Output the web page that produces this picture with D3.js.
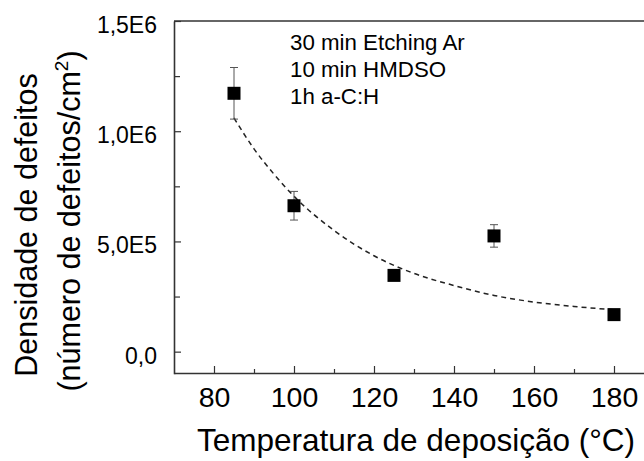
<!DOCTYPE html>
<html>
<head>
<meta charset="utf-8">
<script src="https://cdn.jsdelivr.net/npm/d3@7"></script>
<style>
  body { margin: 0; background: #fff; }
  svg, svg text { font-family: "Liberation Sans", Arial, sans-serif; }
  svg { display: block; }
</style>
</head>
<body>
<div class="chart"></div>
<script>
// measured points (temperature in °C, defect density in defects/cm2)
const temps = [85, 100, 125, 150, 180];
const density = [1172000, 662000, 346000, 525000, 168000];
const errors = [117000, 65000, 15000, 51000, 0];

// dashed trend curve
const fitTemps = [85, 90, 95, 100, 110, 120, 130, 140, 150, 160, 170, 180];
const fitDensity = [1060000, 920000, 805000, 705000, 550000, 435000, 355000, 300000, 255000, 225000, 205000, 190000];

const xTicks = [80, 100, 120, 140, 160, 180];
const xMinorTicks = [90, 110, 130, 150, 170];
const yTicks = [0, 500000, 1000000, 1500000];
const yTickLabels = ["0,0", "5,0E5", "1,0E6", "1,5E6"];
const yMinorTicks = [250000, 750000, 1250000];

const notes = ["30 min Etching Ar", "10 min HMDSO", "1h a-C:H"];

const width = 644, height = 461;
const plotLeft = 174, plotTop = 21, plotBottom = 373;

const svg = d3.select(".chart").append("svg")
    .attr("width", width)
    .attr("height", height);

const x = d3.scaleLinear().domain([70, 190]).range([plotLeft, 654]);
const y = d3.scaleLinear().domain([-100000, 1500000]).range([plotBottom + 0.7, plotTop]);

// frame top line
svg.append("line")
    .attr("x1", plotLeft).attr("x2", width + 10)
    .attr("y1", plotTop).attr("y2", plotTop)
    .attr("stroke", "#333").attr("stroke-width", 1.6);

// x axis
const xAxis = svg.append("g")
    .attr("transform", "translate(0," + plotBottom + ")")
    .call(d3.axisBottom(x).tickValues(xTicks).tickSize(-7).tickSizeOuter(0).tickPadding(14));
xAxis.append("g")
    .call(d3.axisBottom(x).tickValues(xMinorTicks).tickSize(-4).tickSizeOuter(0).tickFormat(""))
    .select(".domain").remove();
xAxis.selectAll("text")
    .attr("font-size", 28.5)
    .attr("fill", "#000");

// y axis
const yAxis = svg.append("g")
    .attr("transform", "translate(" + plotLeft + ",0)")
    .call(d3.axisLeft(y).tickValues(yTicks).tickSize(-7).tickSizeOuter(0).tickPadding(17)
      .tickFormat((d, i) => yTickLabels[i]));
yAxis.append("g")
    .call(d3.axisLeft(y).tickValues(yMinorTicks).tickSize(-6).tickSizeOuter(0).tickFormat(""))
    .select(".domain").remove();
yAxis.selectAll("text")
    .attr("font-size", 23)
    .attr("dy", "0.5em")
    .attr("fill", "#000");

svg.selectAll("g").attr("font-family", null);
svg.selectAll(".domain, .tick line")
    .attr("stroke", "#333");
svg.selectAll(".domain").attr("stroke-width", 1.6);
svg.selectAll(".tick line").attr("stroke-width", 1.2);

// trend line
const line = d3.line()
    .x((d, i) => x(fitTemps[i]))
    .y(d => y(d))
    .curve(d3.curveMonotoneX);
svg.append("path")
    .datum(fitDensity)
    .attr("d", line)
    .attr("fill", "none")
    .attr("stroke", "#222")
    .attr("stroke-width", 1.5)
    .attr("stroke-dasharray", "5,4");

// error bars
const errG = svg.append("g")
    .attr("stroke", "#555")
    .attr("stroke-width", 1);
temps.forEach((t, i) => {
  if (!errors[i]) return;
  const cx = x(t), y1 = y(density[i] + errors[i]), y2 = y(density[i] - errors[i]);
  errG.append("line").attr("x1", cx).attr("x2", cx).attr("y1", y1).attr("y2", y2);
  errG.append("line").attr("x1", cx - 4).attr("x2", cx + 4).attr("y1", y1).attr("y2", y1);
  errG.append("line").attr("x1", cx - 4).attr("x2", cx + 4).attr("y1", y2).attr("y2", y2);
});

// markers
const size = 13;
svg.selectAll("rect.pt")
  .data(temps)
  .enter()
  .append("rect")
    .attr("class", "pt")
    .attr("x", d => x(d) - size / 2)
    .attr("y", (d, i) => y(density[i]) - size / 2)
    .attr("width", size)
    .attr("height", size)
    .attr("fill", "#000");

// notes
svg.append("g").selectAll("text")
  .data(notes)
  .enter()
  .append("text")
    .attr("x", 290)
    .attr("y", (d, i) => 50 + i * 27)
    .attr("font-size", 22.3)
    .attr("fill", "#000")
    .text(d => d);

// axis titles
svg.append("text")
    .attr("x", 416)
    .attr("y", 451)
    .attr("text-anchor", "middle")
    .attr("font-size", 31.5)
    .attr("fill", "#000")
    .text("Temperatura de deposição (°C)");

svg.append("text")
    .attr("transform", "translate(37,225) rotate(-90)")
    .attr("text-anchor", "middle")
    .attr("font-size", 30.5)
    .attr("fill", "#000")
    .text("Densidade de defeitos");

const t2 = svg.append("text")
    .attr("transform", "translate(80,221) rotate(-90)")
    .attr("text-anchor", "middle")
    .attr("font-size", 30.5)
    .attr("fill", "#000");
t2.append("tspan").text("(número de defeitos/cm");
t2.append("tspan").attr("font-size", 19).attr("dy", -12).text("2");
t2.append("tspan").attr("dy", 12).text(")");
</script>
</body>
</html>
